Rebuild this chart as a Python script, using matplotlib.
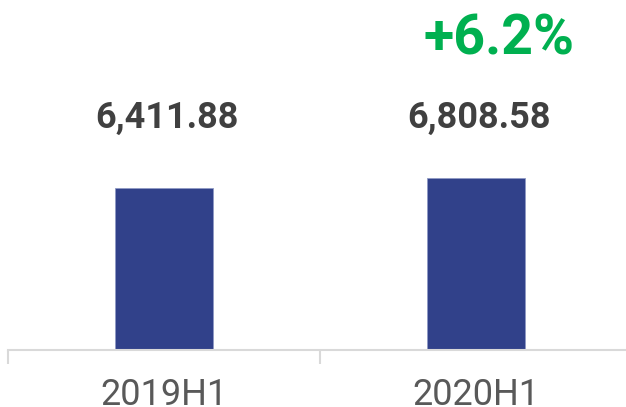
import matplotlib.pyplot as plt

plt.rcParams['font.family'] = ['Roboto', 'DejaVu Sans']

# data
periods = ["2019H1", "2020H1"]
values = [6411.88, 6808.58]
growth_label = "+6.2%"

bar_color = "#31418A"
value_color = "#404040"
label_color = "#595959"
growth_color = "#00B050"

fig = plt.figure(figsize=(6.26, 4.07), dpi=100)
ax = fig.add_axes([8 / 626, 57 / 407, 624 / 626, 350 / 407])

x = list(range(len(periods)))
ax.bar(x, values, width=0.316, color=bar_color, edgecolor="#8f9ac4", linewidth=0.6)
ax.set_xlim(-0.5, len(periods) - 0.5)
ax.set_ylim(0, values[0] * 350 / 162)

for side in ["top", "right", "left"]:
    ax.spines[side].set_visible(False)
ax.spines["bottom"].set_color("#d9d9d9")
ax.spines["bottom"].set_linewidth(1.5)
ax.set_yticks([])

# category boundaries as ticks
ax.set_xticks([i - 0.5 for i in range(len(periods) + 1)])
ax.set_xticklabels([])
ax.tick_params(axis="x", length=10, width=1.5, color="#d9d9d9")
for i, p in enumerate(periods):
    ax.text(i, -0.158, p, transform=ax.get_xaxis_transform(), ha="center", va="baseline",
            fontsize=26, color=label_color)

# value labels at a fixed height above bars
for i, v in enumerate(values):
    ax.text(i + 0.01, 0.662, f"{v:,.2f}", transform=ax.get_xaxis_transform(), ha="center",
            va="center", fontsize=26, fontweight="bold", color=value_color)

ax.text(1 + 0.075, 0.887, growth_label, transform=ax.get_xaxis_transform(), ha="center",
        va="center", fontsize=40, fontweight="bold", color=growth_color)

fig.savefig("out.png", dpi=100)
